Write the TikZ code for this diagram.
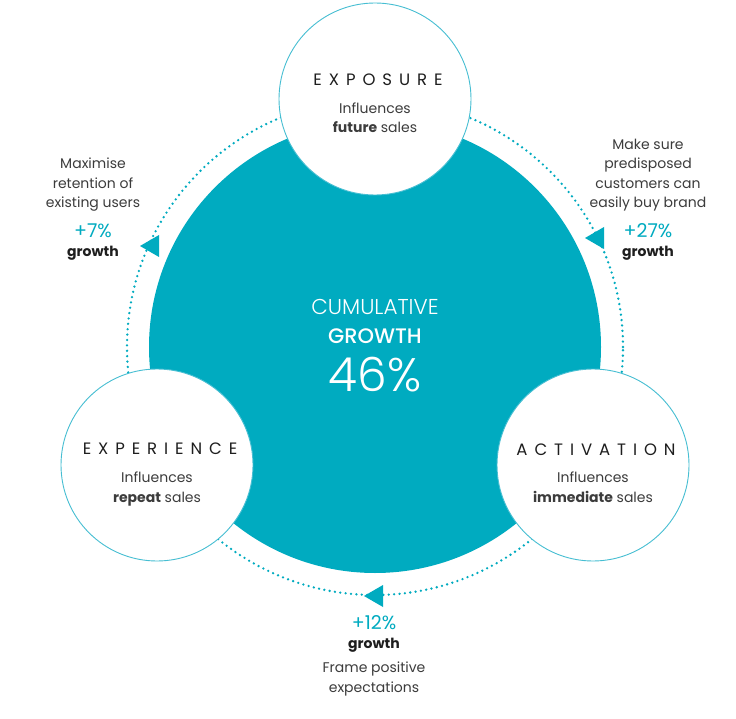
\documentclass[tikz,border=0pt]{standalone}
\usepackage{fontspec}
\setmainfont{Poppins}
\newfontfamily\poplight{Poppins Light}
\newfontfamily\popmed{Poppins Medium}
\usetikzlibrary{calc}
\definecolor{brandteal}{RGB}{0,171,192}
\definecolor{ringteal}{RGB}{70,190,210}
\definecolor{textgray}{RGB}{60,60,60}
\definecolor{titlegray}{RGB}{30,30,30}
\begin{document}
\begin{tikzpicture}[x=1pt,y=-1pt,
  every node/.style={inner sep=0pt, outer sep=0pt},
  bodytxt/.style={font=\fontsize{14}{19.5}\selectfont, text=textgray, align=center, anchor=base},
  titletxt/.style={font=\fontsize{16.5}{18}\selectfont\addfontfeatures{LetterSpace=42}, text=titlegray, anchor=base},
  pcttxt/.style={font=\fontsize{19}{22}\selectfont, text=brandteal, anchor=base},
  growtxt/.style={font=\fontsize{14}{18}\selectfont\bfseries, text=titlegray, anchor=base},
  stagecirc/.style={circle, draw=ringteal, line width=0.9pt, fill=white, minimum size=192pt},
  loopline/.style={draw=brandteal, line width=2.6pt, line cap=round, dash pattern=on 0pt off 5.4pt},
  tipfill/.style={fill=brandteal}
]
\useasboundingbox (0,0) rectangle (736,719);
\fill[white] (0,0) rectangle (736,719);
\coordinate (o) at (375,347);
\node[circle, fill=brandteal, minimum size=452pt] (core) at (o) {};
\draw[loopline] (o) circle[radius=248pt];

% arrow tips
\coordinate (tr) at (585,238);
\coordinate (tl) at (140,246);
\coordinate (tb) at (364,596);
\foreach \t in {tr,tl,tb}{
  \fill[tipfill] (\t) -- ($(\t)+(19,-11)$) -- ($(\t)+(19,11)$) -- cycle;
}

% stage circles
\node[stagecirc] (exposure) at (375,99) {};
\node[stagecirc] (experience) at (157,465) {};
\node[stagecirc] (activation) at (593,465) {};

% stage texts (multi-line nodes: base = last line)
\node[titletxt] (expT) at (378,86) {EXPOSURE};
\node[bodytxt] (expB) at (375,133) {Influences\\\textbf{future} sales};
\node[titletxt] (exoT) at (160,454) {EXPERIENCE};
\node[bodytxt] (exoB) at (157,502) {Influences\\\textbf{repeat} sales};
\node[titletxt] (actT) at (596,455) {ACTIVATION};
\node[bodytxt] (actB) at (593,502) {Influences\\\textbf{immediate} sales};

% centre
\node[anchor=base, text=white, font=\fontsize{21.5}{24}\selectfont\poplight] (cum) at (375,315) {CUMULATIVE};
\node[anchor=base, text=white, font=\fontsize{21}{24}\selectfont\popmed] (grw) at (375,343) {GROWTH};
\node[anchor=base, text=white, font=\fontsize{47}{50}\selectfont\poplight] (pc) at (375,391) {46\%};

% side texts
\node[bodytxt] (lt) at (93,208) {Maximise\\retention of\\existing users};
\node[pcttxt] (lp) at (93,238) {+7\%};
\node[growtxt] (lg) at (93,257) {growth};

\node[bodytxt] (rt) at (648,208) {Make sure\\predisposed\\customers can\\easily buy brand};
\node[pcttxt] (rp) at (648,238) {+27\%};
\node[growtxt] (rg) at (648,257) {growth};

\node[pcttxt] (bp) at (374,629) {+12\%};
\node[growtxt] (bg) at (374,648) {growth};
\node[bodytxt] (bt) at (374,692) {Frame positive\\expectations};
\end{tikzpicture}
\end{document}
